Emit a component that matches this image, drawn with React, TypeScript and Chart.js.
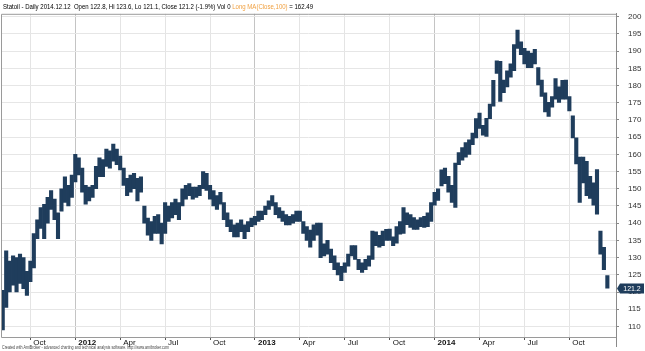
import React, { useEffect, useRef } from 'react';
import { Chart, registerables } from 'chart.js';

Chart.register(...registerables);

// ---- data (weekly ranges) ----
const startWeek = '2011-08-08';
const categoryCount = 178;

const weekLows = [
  109, 115.5, 120, 122, 120, 122.5, 121, 119, 123, 127,
  135.5, 138.5, 135.5, 140, 144, 141, 135.5, 143.5, 146, 145,
  147.5, 152, 154, 149, 145.5, 146.5, 147.5, 150, 153.5, 153.5,
  156.5, 156, 158, 157, 155.5, 151, 148, 149, 150, 146.5,
  149, 140, 136.5, 135, 137, 137, 134, 137, 140.5, 141.5,
  142.5, 141, 145, 147, 148, 147, 147.5, 148, 150, 149.5,
  147, 145, 144, 145.5, 141, 139, 137.5, 136, 136, 137.5,
  135.5, 137.5, 139, 139.5, 140.5, 141, 142.5, 144, 145, 142.5,
  141.5, 140.5, 139.5, 139.5, 140, 140.5, 140.5, 137, 135, 133,
  135, 136.5, 130, 130.5, 131, 128.5, 126.5, 125, 123.3, 125.7,
  127.5, 130.5, 129.5, 126.5, 125.7, 126.5, 127.5, 129.5, 133.5, 133,
  133.5, 135, 135, 133.5, 134.2, 136.8, 137, 139.6, 138.8, 138.2,
  138.2, 139, 138.8, 139, 140.5, 145.2, 146.6, 150.8, 151.5, 149,
  146, 144.6, 157, 158.3, 159.2, 160, 162.8, 164.8, 167.5, 165.6,
  165.2, 170.4, 174, 183.5, 175.4, 177.9, 179.6, 182.4, 184.3, 190.8,
  189, 186.3, 185.2, 185.2, 186.3, 180.2, 176.8, 172.3, 171, 173.7,
  176, 175.1, 176, 176, 172.6, 164.8, 157.2, 146, 151.7, 148,
  147.2, 145.2, 142.6, 131, 126.5, 121.1,
];

const weekHighs = [
  120.5, 132, 129, 130.5, 130, 131, 130, 126, 129, 137,
  141, 144.5, 145.5, 147.5, 149.5, 147, 143, 150, 153.5, 151,
  154, 160, 159, 156, 151, 150.5, 151, 156.5, 159, 158.5,
  161.5, 161, 163, 161.5, 159.5, 156, 153, 154, 154.5, 153,
  153.5, 145, 141.5, 140.5, 142, 142.5, 140, 146, 145, 146,
  147, 146, 150, 151, 151.5, 150.5, 150.5, 151, 155, 154.5,
  151, 149.5, 148, 149, 146, 143, 141, 139.5, 140, 141,
  139.5, 140.5, 141.5, 142, 143.5, 143.5, 145, 146.5, 148, 146,
  144.5, 143.5, 142.5, 142, 142.5, 143.5, 143.5, 140.5, 139, 138,
  139.5, 140, 140, 134, 135, 132.5, 130.5, 128.5, 127.5, 128.5,
  131, 133.5, 133.5, 129.5, 128.5, 129.5, 130.5, 137.7, 137.5, 136.5,
  137.7, 138.2, 138.3, 136, 139, 140.5, 144.5, 143, 142.5, 141.6,
  141, 141.6, 142, 143, 146, 149, 150, 155.5, 156, 153.6,
  151, 157.5, 160.5, 162, 163.4, 164.2, 166.2, 170.4, 172, 168.4,
  170.5, 174.6, 181.5, 187.2, 187, 181.6, 184.3, 186.3, 191.9, 196.1,
  192.7, 190.8, 190, 189.4, 190.5, 185.2, 181.6, 177.9, 175.1, 176.8,
  182, 179.6, 181.5, 181.6, 176.8, 171.2, 164.8, 159.2, 159.2, 158,
  153.6, 151.7, 155.6, 137.7, 133, 124.8,
];

const quarterIndexes = [8, 21, 34, 47, 60, 73, 86, 99, 112, 125, 138, 151, 164];
const quarterLabels = ['Oct', '2012', 'Apr', 'Jul', 'Oct', '2013', 'Apr', 'Jul', 'Oct', '2014', 'Apr', 'Jul', 'Oct'];
const yTickValues = [110, 115, 120, 125, 130, 135, 140, 145, 150, 155, 160, 165, 170, 175, 180, 185, 190, 195, 200];
const yMin = 106.93;
const yMax = 200.84;
const lastClose = 121.2;

const titleParts: [string, string][] = [
  ['Statoil - Daily 2014.12.12  Open 122.8, Hi 123.6, Lo 121.1, Close 121.2 (-1.9%) Vol 0 ', '#000000'],
  ['Long MA(Close,100)', '#f0a040'],
  [' = 162.49', '#000000'],
];
const creditText = 'Created with AmiBroker - advanced charting and technical analysis software. http://www.amibroker.com';

const FONT = '"Liberation Sans", Arial, sans-serif';
const NARROW = '"Liberation Sans Narrow", "Liberation Sans", Arial, sans-serif';
const BAR_COLOR = '#1f3d5c';

function weekLabels(): string[] {
  const d0 = new Date(startWeek + 'T00:00:00Z').getTime();
  const out: string[] = [];
  for (let i = 0; i < categoryCount; i++) {
    out.push(new Date(d0 + i * 7 * 86400000).toISOString().slice(0, 10));
  }
  return out;
}

const decorPlugin = {
  id: 'decor',
  afterDraw(chart: any) {
    const { ctx, chartArea: a, scales } = chart;
    const y = scales.y;
    ctx.save();
    // plot frame (top, left, bottom)
    ctx.strokeStyle = '#9a9a9a';
    ctx.lineWidth = 1;
    ctx.beginPath();
    ctx.moveTo(a.right, a.top + 0.5);
    ctx.lineTo(a.left + 0.5, a.top + 0.5);
    ctx.lineTo(a.left + 0.5, a.bottom + 0.5);
    ctx.lineTo(a.right, a.bottom + 0.5);
    ctx.stroke();
    // right axis extension below plot
    ctx.strokeStyle = '#8a8a8a';
    ctx.beginPath();
    ctx.moveTo(a.right + 0.5, a.bottom);
    ctx.lineTo(a.right + 0.5, a.bottom + 10);
    ctx.stroke();

    // title
    ctx.textBaseline = 'middle';
    ctx.textAlign = 'left';
    ctx.font = '7px ' + NARROW;
    const full = titleParts.map((p) => p[0]).join('');
    const w = ctx.measureText(full).width;
    const sx = 310 / w;
    ctx.save();
    ctx.translate(3, 7);
    ctx.scale(sx, 1);
    let x = 0;
    for (const [t, c] of titleParts) {
      ctx.fillStyle = c;
      ctx.fillText(t, x, 0);
      x += ctx.measureText(t).width;
    }
    ctx.restore();

    // credit line
    ctx.font = '5px ' + NARROW;
    const cw = ctx.measureText(creditText).width;
    ctx.save();
    ctx.translate(2, 348);
    ctx.scale(167 / cw, 1);
    ctx.fillStyle = '#444';
    ctx.fillText(creditText, 0, 0);
    ctx.restore();

    // last price flag
    const py = Math.round(y.getPixelForValue(lastClose));
    const bx = a.right + 4;
    const bw = 24;
    ctx.fillStyle = BAR_COLOR;
    ctx.beginPath();
    ctx.moveTo(bx - 3, py + 0.5);
    ctx.lineTo(bx, py - 4.5);
    ctx.lineTo(bx + bw, py - 4.5);
    ctx.lineTo(bx + bw, py + 5.5);
    ctx.lineTo(bx, py + 5.5);
    ctx.closePath();
    ctx.fill();
    ctx.fillStyle = '#ffffff';
    ctx.font = '7px ' + FONT;
    ctx.textAlign = 'center';
    ctx.fillText(String(lastClose), bx + bw / 2, py + 1);
    ctx.restore();
  },
};

export default function App() {
  const ref = useRef<HTMLCanvasElement | null>(null);

  useEffect(() => {
    if (!ref.current) return;
    const labels = weekLabels();
    const ranges = weekLows.map((lo, i) => [lo, weekHighs[i]]);
    const chart = new Chart(ref.current, {
      type: 'bar',
      data: {
        labels,
        datasets: [
          {
            data: ranges as any,
            backgroundColor: BAR_COLOR,
            borderWidth: 0,
            barPercentage: 1,
            categoryPercentage: 1,
          },
        ],
      },
      options: {
        animation: false,
        responsive: false,
        maintainAspectRatio: false,
        devicePixelRatio: 1,
        layout: { padding: { left: 1, top: 1, right: 0, bottom: 0 } },
        plugins: { legend: { display: false }, tooltip: { enabled: false } },
        scales: {
          x: {
            type: 'category',
            offset: true,
            grid: {
              offset: false,
              lineWidth: 1,
              drawTicks: true,
              tickLength: 3,
              color: (c: any) => {
                const k = quarterIndexes.indexOf(c.index);
                if (k < 0) return 'rgba(0,0,0,0)';
                return /^\d{4}$/.test(quarterLabels[k]) ? '#c4c4c4' : '#e4e4e4';
              },
              tickColor: (c: any) => (quarterIndexes.indexOf(c.index) < 0 ? 'rgba(0,0,0,0)' : '#555'),
            },
            border: { display: false },
            ticks: {
              autoSkip: false,
              maxRotation: 0,
              minRotation: 0,
              align: 'start',
              labelOffset: 3,
              padding: -2,
              color: '#111',
              font: (c: any) => {
                const k = quarterIndexes.indexOf(c.index);
                const bold = k >= 0 && /^\d{4}$/.test(quarterLabels[k]);
                return { family: FONT, size: 8, weight: bold ? 'bold' : 'normal' };
              },
              callback: (_v: any, i: number) => {
                const k = quarterIndexes.indexOf(i);
                return k < 0 ? '' : quarterLabels[k];
              },
            },
            afterFit: (s: any) => {
              s.height = 14;
            },
          },
          y: {
            position: 'right',
            min: yMin,
            max: yMax,
            afterBuildTicks: (s: any) => {
              s.ticks = yTickValues.map((v) => ({ value: v }));
            },
            grid: { color: '#e6e6e6', lineWidth: 1, tickLength: 3, tickColor: '#888' },
            border: { display: true, color: '#8a8a8a' },
            ticks: {
              padding: 9,
              color: '#333',
              font: { family: FONT, size: 8 },
              callback: (v: any) => String(v),
            },
            afterFit: (s: any) => {
              s.width = 29;
            },
          },
        },
      },
      plugins: [decorPlugin],
    } as any);
    return () => chart.destroy();
  }, []);

  return (
    <div style={{ position: 'absolute', left: 0, top: 0, width: 645, height: 351, background: '#fff' }}>
      <canvas ref={ref} width={645} height={351} style={{ width: 645, height: 351, display: 'block' }} />
    </div>
  );
}
